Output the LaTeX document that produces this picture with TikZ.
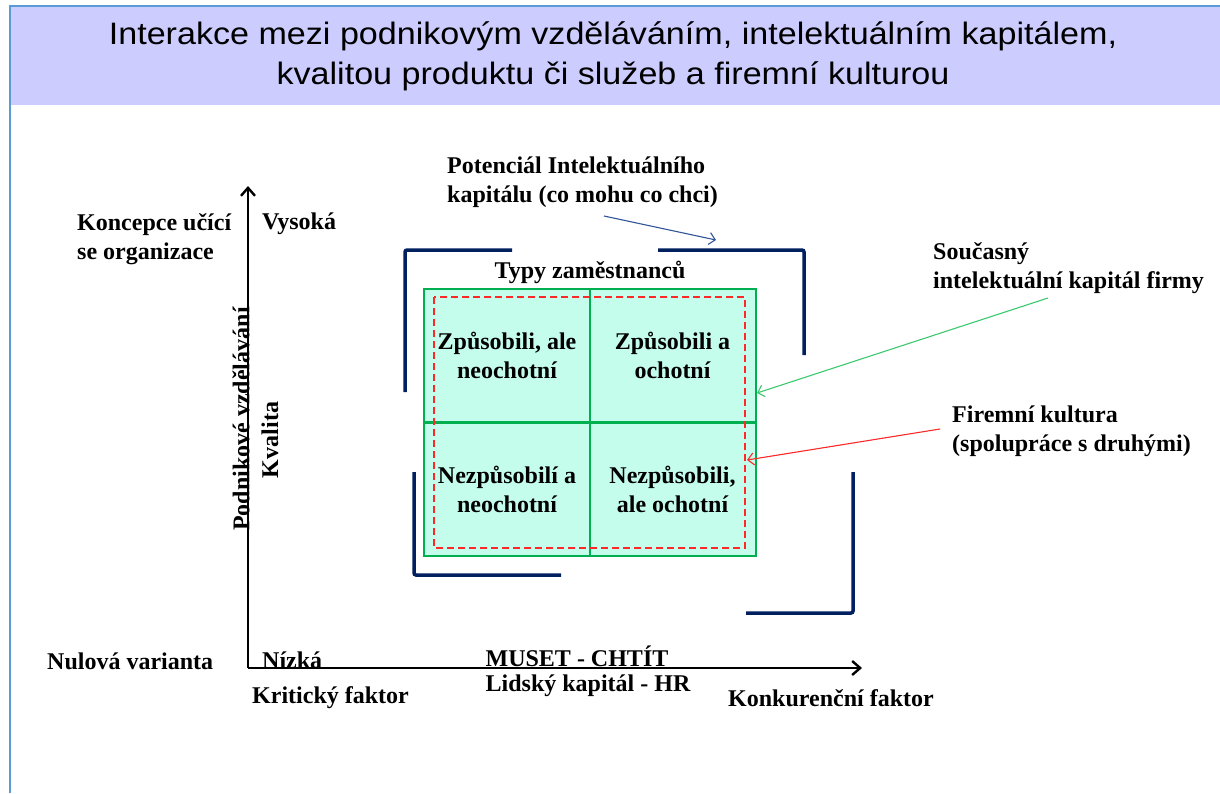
\documentclass[tikz,border=0pt]{standalone}
\usepackage{fontspec}
\setmainfont{Liberation Serif}
\newfontfamily\titlefont{Liberation Sans}
\usetikzlibrary{arrows.meta}
\definecolor{bandfill}{RGB}{204,204,255}
\definecolor{frameblue}{RGB}{91,155,213}
\definecolor{navy}{RGB}{0,32,96}
\definecolor{mint}{RGB}{196,253,236}
\definecolor{gridgreen}{RGB}{0,176,80}
\definecolor{potblue}{RGB}{47,85,151}
\definecolor{curgreen}{RGB}{60,200,110}
\definecolor{culred}{RGB}{255,40,40}
\tikzset{
  lbl/.style={font=\fontsize{24}{29}\selectfont\bfseries, inner sep=0pt, align=left},
  cell/.style={lbl, align=center, draw=gridgreen, line width=2pt, fill=mint,
    minimum width=166pt, minimum height=133pt},
  bracket/.style={draw=navy, line width=3.5pt, rounded corners=2pt},
  note/.style={line width=1.1pt, -{Straight Barb[length=6pt,width=12pt]}},
  axis/.style={line width=2.4pt, -{Straight Barb[length=8pt,width=14pt]}}
}
\begin{document}
\begin{tikzpicture}[x=1pt,y=-1pt]
  \useasboundingbox (0,0) rectangle (1220,793);
  % title band
  \fill[bandfill] (10,6) rectangle (1220,105);
  \draw[frameblue, line width=2.5pt] (10,793) -- (10,6) -- (1220,6);
  \node[font=\titlefont\fontsize{31}{40}\selectfont, align=center, xscale=1.1] (title) at (613,56)
    {Interakce mezi podnikovým vzděláváním, intelektuálním kapitálem,\\kvalitou produktu či služeb a firemní kulturou};

  % axes
  \coordinate (origin) at (248,668);
  \coordinate (ytop) at (248,186);
  \coordinate (xend) at (862,668);
  \draw[axis] (origin) -- (ytop);
  \draw[axis] (origin) -- (xend);

  % brackets
  \draw[bracket] (405,392) -- (405,250) -- (512,250);
  \draw[bracket] (658,250) -- (804,250) -- (804,355);
  \draw[bracket] (414,472) -- (414,575) -- (561,575);
  \draw[bracket] (853,472) -- (853,613) -- (746,613);

  % employee types
  \node[cell] (ua) at (507,355.5) {Způsobili, ale\\neochotní};
  \node[cell] (uo) at (672.5,355.5) {Způsobili a\\ochotní};
  \node[cell] (na) at (507,489) {Nezpůsobilí a\\neochotní};
  \node[cell] (no) at (672.5,489) {Nezpůsobili,\\ale ochotní};
  \draw[culred, line width=2pt, dash pattern=on 7pt off 4pt] (434,297) rectangle (745,548);
  \node[lbl] (typy) at (590,272) {Typy zaměstnanců};

  % axis labels
  \node[lbl, anchor=west] (koncepce) at (77,239) {Koncepce učící\\se organizace};
  \node[lbl, anchor=west] (vysoka) at (262,224) {Vysoká};
  \node[lbl, anchor=west] (nulova) at (47,661) {Nulová varianta};
  \node[lbl, anchor=west] (nizka) at (262,660) {Nízká};
  \node[lbl, anchor=west] (kriticky) at (252,698) {Kritický faktor};
  \node[lbl] (muset) at (577,656) {MUSET - CHTÍT};
  \node[lbl] (lidsky) at (588,686) {Lidský kapitál - HR};
  \node[lbl, anchor=west] (konkurencni) at (728,698) {Konkurenční faktor};
  \node[lbl, rotate=90] (podnikove) at (241,419) {Podnikové vzdělávání};
  \node[lbl, rotate=90] (kvalita) at (270,440) {Kvalita};

  % annotations
  \node[lbl, anchor=west] (potencial) at (447,182) {Potenciál Intelektuálního\\kapitálu (co mohu co chci)};
  \node[lbl, anchor=west] (soucasny) at (933,268) {Současný\\intelektuální kapitál firmy};
  \node[lbl, anchor=west] (kultura) at (952,431) {Firemní kultura\\(spolupráce s druhými)};
  \coordinate (potfrom) at (604,216);
  \coordinate (potto) at (716,240);
  \coordinate (curfrom) at (1048,298);
  \coordinate (curto) at (757,393);
  \coordinate (culfrom) at (940,429);
  \coordinate (culto) at (747,460);
  \draw[note, potblue] (potfrom) -- (potto);
  \draw[note, curgreen] (curfrom) -- (curto);
  \draw[note, culred] (culfrom) -- (culto);
\end{tikzpicture}
\end{document}
